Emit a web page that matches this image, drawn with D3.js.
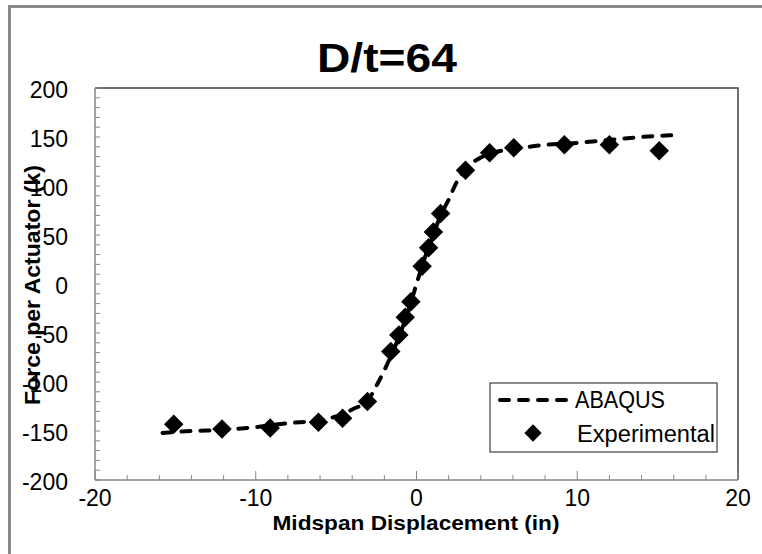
<!DOCTYPE html>
<html>
<head>
<meta charset="utf-8">
<script src="https://cdn.jsdelivr.net/npm/d3@7"></script>
<style>
  html, body { margin: 0; padding: 0; background: #fff; }
  svg { display: block; }
</style>
</head>
<body>
<svg id="chart" width="762" height="554"></svg>
<script>
// ---- Data ----
const chartTitle = "D/t=64";
const xAxisTitle = "Midspan Displacement (in)";
const yAxisTitle = "Force per Actuator (k)";
const seriesNames = ["ABAQUS", "Experimental"];

const xTicks = [-20, -10, 0, 10, 20];
const yTicks = [-200, -150, -100, -50, 0, 50, 100, 150, 200];

const abaqusX = [-15.8, -14, -12, -10, -8, -6, -5, -4, -3, -2.4, -2, -1.5, -1, -0.5, 0, 0.5, 1, 1.5, 2, 2.5, 3, 3.5, 4, 5, 6, 7, 8, 10, 12, 14, 16];
const abaqusY = [-152, -150, -149, -146, -142, -139, -135, -128, -118, -101, -88, -70, -50, -27, 0, 26, 48, 70, 86, 104, 116, 124, 129, 135, 138, 140, 142, 144, 147, 150, 152];

const expX = [-15.1, -12.1, -9.1, -6.1, -4.6, -3.05, -1.6, -1.1, -0.7, -0.35, 0.35, 0.75, 1.05, 1.5, 3.05, 4.55, 6.05, 9.2, 12.0, 15.1];
const expY = [-143, -148, -147, -141, -137, -120, -69, -52, -34, -18, 18, 37, 53, 72, 116, 134, 139, 142, 142, 136];

// ---- Layout ----
const svg = d3.select("#chart");
const plot = { left: 95, right: 738, top: 88, bottom: 480 };
const FONT = "'Liberation Sans', Arial, sans-serif";

const x = d3.scaleLinear().domain([-20, 20]).range([plot.left, plot.right]);
const y = d3.scaleLinear().domain([-200, 200]).range([plot.bottom, plot.top]);

// outer chart border (clipped by window at right/bottom)
svg.append("rect")
  .attr("x", 9.5).attr("y", 6.5)
  .attr("width", 780).attr("height", 600)
  .attr("fill", "none").attr("stroke", "#8a8a8a").attr("stroke-width", 3);

// plot area frame top/right
svg.append("path")
  .attr("d", `M${plot.left},${plot.top}H${plot.right}V${plot.bottom}`)
  .attr("fill", "none").attr("stroke", "#404040").attr("stroke-width", 1.5);

// axes: minor ticks
const gAx = svg.append("g");
const yMinor = d3.range(-200, 201, 10);
gAx.selectAll("line.ym").data(yMinor).join("line")
  .attr("x1", plot.left).attr("x2", plot.left + 5)
  .attr("y1", d => y(d)).attr("y2", d => y(d))
  .attr("stroke", "#868686").attr("stroke-width", 1);
const xMinor = d3.range(-20, 21, 2);
gAx.selectAll("line.xm").data(xMinor).join("line")
  .attr("x1", d => x(d)).attr("x2", d => x(d))
  .attr("y1", plot.bottom).attr("y2", d => plot.bottom - (d % 10 === 0 ? 9 : 5))
  .attr("stroke", "#868686").attr("stroke-width", 1);

// axis lines
svg.append("line").attr("x1", plot.left).attr("x2", plot.left)
  .attr("y1", plot.top).attr("y2", plot.bottom)
  .attr("stroke", "#868686").attr("stroke-width", 1.5);
svg.append("line").attr("x1", plot.left).attr("x2", plot.right)
  .attr("y1", plot.bottom).attr("y2", plot.bottom)
  .attr("stroke", "#868686").attr("stroke-width", 1.5);

// tick labels
svg.append("g").selectAll("text").data(yTicks).join("text")
  .attr("x", 68).attr("y", d => y(d) + 10)
  .attr("text-anchor", "end")
  .attr("font-family", FONT).attr("font-size", 23).attr("fill", "#000")
  .text(d => d);
svg.append("g").selectAll("text").data(xTicks).join("text")
  .attr("x", d => x(d)).attr("y", 506)
  .attr("text-anchor", "middle")
  .attr("font-family", FONT).attr("font-size", 23).attr("fill", "#000")
  .text(d => d);

// titles
svg.append("text")
  .attr("x", 387).attr("y", 72)
  .attr("text-anchor", "middle")
  .attr("font-family", FONT).attr("font-weight", "bold").attr("font-size", 41)
  .attr("textLength", 140).attr("lengthAdjust", "spacingAndGlyphs")
  .text(chartTitle);
svg.append("text")
  .attr("x", 416).attr("y", 530)
  .attr("text-anchor", "middle")
  .attr("font-family", FONT).attr("font-weight", "bold").attr("font-size", 21)
  .attr("textLength", 287).attr("lengthAdjust", "spacingAndGlyphs")
  .text(xAxisTitle);
svg.append("text")
  .attr("transform", "translate(40,285) rotate(-90)")
  .attr("text-anchor", "middle")
  .attr("font-family", FONT).attr("font-weight", "bold").attr("font-size", 22)
  .attr("textLength", 240).attr("lengthAdjust", "spacingAndGlyphs")
  .text(yAxisTitle);

// ABAQUS dashed line
const abaqus = abaqusX.map((v, i) => [v, abaqusY[i]]);
const line = d3.line().x(d => x(d[0])).y(d => y(d[1])).curve(d3.curveMonotoneX);
svg.append("path")
  .datum(abaqus)
  .attr("d", line)
  .attr("fill", "none").attr("stroke", "#000").attr("stroke-width", 4)
  .attr("stroke-dasharray", "9,10").attr("stroke-linecap", "round");

// Experimental diamonds
const exp = expX.map((v, i) => [v, expY[i]]);
const diamond = d3.symbol().type(d3.symbolSquare).size(190);
svg.append("g").selectAll("path").data(exp).join("path")
  .attr("transform", d => `translate(${x(d[0])},${y(d[1])}) rotate(45)`)
  .attr("d", diamond)
  .attr("fill", "#000");

// Legend
const lg = svg.append("g");
lg.append("rect").attr("x", 490).attr("y", 383).attr("width", 227).attr("height", 69)
  .attr("fill", "#fff").attr("stroke", "#404040").attr("stroke-width", 1.2);
lg.append("line").attr("x1", 500).attr("x2", 566).attr("y1", 400).attr("y2", 400)
  .attr("stroke", "#000").attr("stroke-width", 4)
  .attr("stroke-dasharray", "9,10").attr("stroke-linecap", "round");
lg.append("text").attr("x", 575).attr("y", 408)
  .attr("font-family", FONT).attr("font-size", 23).attr("fill", "#000")
  .attr("textLength", 90).attr("lengthAdjust", "spacingAndGlyphs")
  .text(seriesNames[0]);
lg.append("path")
  .attr("transform", "translate(533,433) rotate(45)")
  .attr("d", d3.symbol().type(d3.symbolSquare).size(150))
  .attr("fill", "#000");
lg.append("text").attr("x", 577).attr("y", 442)
  .attr("font-family", FONT).attr("font-size", 23).attr("fill", "#000")
  .attr("textLength", 138).attr("lengthAdjust", "spacingAndGlyphs")
  .text(seriesNames[1]);
</script>
</body>
</html>
